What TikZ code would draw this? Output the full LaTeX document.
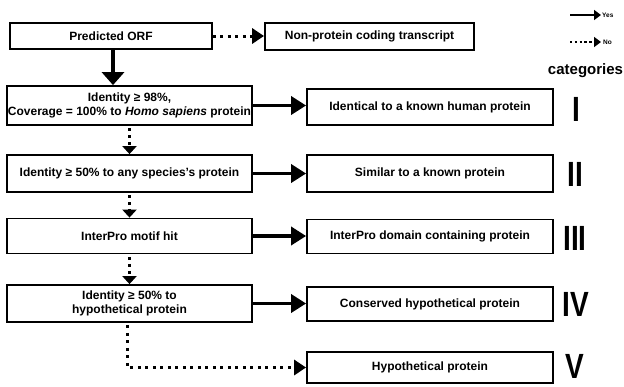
\documentclass[tikz,border=0pt]{standalone}
\usepackage{fontspec}
\setmainfont{Liberation Sans}
\usetikzlibrary{arrows.meta,calc}
\tikzset{
  box/.style={draw, line width=1.8pt, fill=white, inner sep=1pt, align=center,
    font=\fontsize{12}{14.5}\selectfont\bfseries},
  yesarrow/.style={line width=3.5pt, -{Triangle[length=15pt,width=18pt]}},
  bigyes/.style={line width=4.5pt, -{Triangle[length=13pt,width=22pt]}},
  noarrow/.style={line width=3pt, dash pattern=on 3pt off 4.5pt,
    -{Triangle[length=12pt,width=15pt]}},
  shortno/.style={line width=3pt, dash pattern=on 3pt off 4pt,
    -{Triangle[length=8pt,width=14pt]}},
  legyes/.style={line width=2.6pt, -{Triangle[length=7pt,width=10pt]}},
  legno/.style={line width=2.6pt, dash pattern=on 2.4pt off 2.4pt, -{Triangle[length=7pt,width=10pt]}},
  numeral/.style={font=\fontsize{35}{35}\selectfont\bfseries, inner sep=0pt},
  legtext/.style={font=\fontsize{6.5}{7}\selectfont\bfseries, inner sep=0pt, anchor=west}
}
\begin{document}
\begin{tikzpicture}[x=1pt,y=-1pt]
\useasboundingbox (0,0) rectangle (624,386);
% left column
\node[box, minimum width=202pt, minimum height=26pt] (orf) at (111,36) {Predicted ORF};
\node[box, minimum width=245pt, minimum height=39pt] (id98) at (129.5,105.5)
  {Identity ≥ 98\%,\\Coverage = 100\% to \textit{Homo sapiens} protein};
\node[box, minimum width=245pt, minimum height=37pt] (id50) at (129.5,173.5)
  {Identity ≥ 50\% to any species's protein};
\node[box, minimum width=245pt, minimum height=35pt] (motif) at (129.5,236)
  {InterPro motif hit};
\node[box, minimum width=245pt, minimum height=37pt] (id50h) at (129.5,303.5)
  {Identity ≥ 50\% to\\hypothetical protein};
% right column
\node[box, minimum width=209pt, minimum height=27pt] (nonp) at (369.5,36.5)
  {Non-protein coding transcript};
\node[box, minimum width=246pt, minimum height=36pt] (ident) at (430,107)
  {Identical to a known human protein};
\node[box, minimum width=246pt, minimum height=37pt] (simil) at (430,173.5)
  {Similar to a known protein};
\node[box, minimum width=246pt, minimum height=34pt] (domain) at (430,236.5)
  {InterPro domain containing protein};
\node[box, minimum width=246pt, minimum height=34pt] (consv) at (430,304)
  {Conserved hypothetical protein};
\node[box, minimum width=246pt, minimum height=31pt] (hypo) at (430,367.5)
  {Hypothetical protein};
% numerals
\node[numeral] (n1) at (576,109) {\scalebox{0.8}[1]{I}};
\node[numeral] (n2) at (575,174) {\scalebox{0.8}[1]{II}};
\node[numeral] (n3) at (575,238) {\scalebox{0.8}[1]{III}};
\node[numeral] (n4) at (576,304) {\scalebox{0.8}[1]{IV}};
\node[numeral] (n5) at (575,366) {\scalebox{0.8}[1]{V}};
\node[font=\fontsize{15}{15}\selectfont\bfseries, inner sep=0pt] (cat) at (585.5,71) {categories};
% legend
\node[legtext] (yes) at (602,15) {Yes};
\node[legtext] (no) at (603,42) {No};
\coordinate (ly) at (570,15);
\coordinate (ln) at (570,42);
\draw[legyes] (ly) -- ($(yes.west)+(-1,0)$);
\draw[legno] (ln) -- ($(no.west)+(-2,0)$);
% connectors
\draw[noarrow] (orf.east) -- (orf.east -| nonp.west);
\draw[bigyes] ($(orf.south)+(2,0)$) -- ($(orf.south |- id98.north)+(2,0)$);
\draw[yesarrow] (id98.east) -- (id98.east -| ident.west);
\draw[yesarrow] (id50.east) -- (id50.east -| simil.west);
\draw[yesarrow] (motif.east) -- (motif.east -| domain.west);
\draw[yesarrow] (id50h.east) -- (id50h.east -| consv.west);
\draw[shortno] ($(id98.south)+(0,2.5)$) -- (id50.north);
\draw[shortno] ($(id50.south)+(0,2.5)$) -- (motif.north);
\draw[shortno] ($(motif.south)+(0,2.5)$) -- (id50h.north);
\draw[noarrow] ($(id50h.south)+(-2,2.5)$) |- (hypo.west);
\end{tikzpicture}
\end{document}
